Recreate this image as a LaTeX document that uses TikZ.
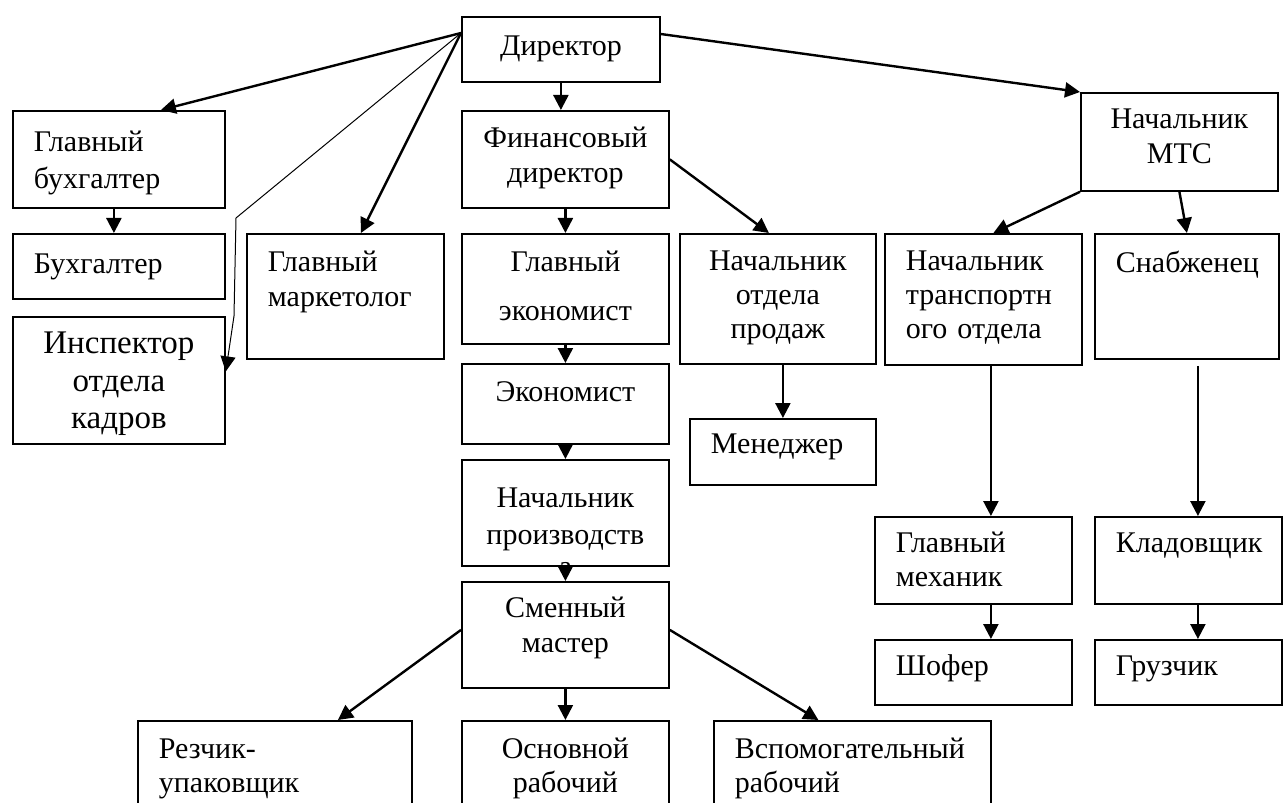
\documentclass[tikz,border=0pt]{standalone}
\usepackage{fontspec}
\setmainfont{Liberation Serif}
\usetikzlibrary{arrows.meta}
\hyphenpenalty=10000
\tikzstyle{block} = [rectangle, draw, line width=0.9pt, anchor=north west,
	inner xsep=0pt, inner ysep=0pt, align=center,
	font=\fontsize{15pt}{17.5pt}\selectfont]
\tikzstyle{lblock} = [block, inner xsep=10.5pt, align=left]
\tikzstyle{line} = [draw, line width=1.2pt, -{Triangle[length=7.5pt,width=7.5pt]}]
\tikzstyle{thinline} = [draw, line width=0.5pt, -{Triangle[length=7.5pt,width=7.5pt]}]

\begin{document}
\begin{tikzpicture}[x=0.5pt, y=-0.5pt]
	\path [use as bounding box, clip] (0,0) rectangle (1283,802);
	% Place nodes
	\node [block, text width=99pt, text height=19.5pt, text depth=13pt] (director) at (461,16) {Директор};
	\node [block, text width=103.5pt, text height=18.5pt, text depth=30pt] (findir) at (461,110) {Финансовый\\директор};
	\node [lblock, text width=85pt, text height=20.5pt, text depth=28pt,
		font=\fontsize{15pt}{18.5pt}\selectfont] (chiefacc) at (12,110) {Главный\\бухгалтер};
	\node [lblock, text width=85pt, text height=20pt, text depth=12.5pt] (acc) at (12,233) {Бухгалтер};
	\node [block, text width=106pt, text height=18.5pt, text depth=45pt,
		font=\fontsize{16.5pt}{18.75pt}\selectfont] (hr) at (12,316) {Инспектор\\отдела\\кадров};
	\node [lblock, text width=77.5pt, text height=19pt, text depth=43.5pt] (market) at (246,233) {Главный\\маркетолог};
	\node [block, text width=103.5pt, text height=19pt, text depth=36pt,
		font=\fontsize{15pt}{24.5pt}\selectfont] (chiefecon) at (461,233) {Главный\\экономист};
	\node [block, text width=103.5pt, text height=19pt, text depth=21pt] (econ) at (461,363) {Экономист};
	\node [block, text width=103.5pt, text height=23.5pt, text depth=29.5pt,
		path picture={\node [draw=none, anchor=north, inner sep=0pt, text width=103.5pt,
			align=center, text height=23.5pt, font=\fontsize{15pt}{18.5pt}\selectfont]
			at (path picture bounding box.north) {Начальник\\производств\\[-2.5pt]а};}] (prodhead) at (461,459) {};
	\node [block, text width=103.5pt, text height=18pt, text depth=35pt] (master) at (461,581) {Сменный\\мастер};
	\node [lblock, text width=116pt, text height=19pt, text depth=31pt,
		font=\fontsize{15pt}{17pt}\selectfont] (cutter) at (137,720) {Резчик-\\упаковщик};
	\node [block, text width=103.5pt, text height=19pt, text depth=31pt,
		font=\fontsize{15pt}{17pt}\selectfont] (worker) at (461,720) {Основной\\рабочий};
	\node [lblock, text width=117.5pt, text height=19pt, text depth=31pt,
		font=\fontsize{15pt}{17pt}\selectfont] (helper) at (713,720) {Вспомогательный\\рабочий};
	\node [block, text width=98pt, text height=18.5pt, text depth=46.5pt,
		font=\fontsize{15pt}{17pt}\selectfont] (saleshead) at (679,233) {Начальник\\отдела\\продаж};
	\node [lblock, text width=72pt, text height=17.5pt, text depth=15.5pt] (manager) at (689,418) {Менеджер};
	\node [block, text width=98.5pt, text height=18pt, text depth=31pt] (mts) at (1080,92) {Начальник\\МТС};
	\node [lblock, text width=77.5pt, text height=18.5pt, text depth=47pt,
		font=\fontsize{15pt}{17pt}\selectfont] (transhead) at (884,233) {Начальник\\транспортн\\ого отдела};
	\node [lblock, text width=71pt, text height=19.5pt, text depth=43pt] (supplier) at (1094,233) {Снабженец};
	\node [lblock, text width=77.5pt, text height=18pt, text depth=25.5pt,
		font=\fontsize{15pt}{17pt}\selectfont] (mechanic) at (874,516) {Главный\\механик};
	\node [lblock, text width=77.5pt, text height=18pt, text depth=14.5pt] (driver) at (874,639) {Шофер};
	\node [lblock, text width=72.5pt, text height=18pt, text depth=25.5pt] (storekeeper) at (1094,516) {Кладовщик};
	\node [lblock, text width=72.5pt, text height=18pt, text depth=14.5pt] (loader) at (1094,639) {Грузчик};
	\coordinate (dirleft) at ([yshift=-8.5pt]director.north west);
	\coordinate (dirright) at ([yshift=-9pt]director.north east);
	% Draw edges
	\path [line] (dirleft) -- ([xshift=21pt]chiefacc.north);
	\path [line] (dirleft) -- ([xshift=7.75pt]market.north);
	\path [thinline] (dirleft) -- (236,218) -- (234,316) -- ([yshift=4.5pt]hr.east);
	\path [line] ([xshift=-2.5pt]chiefacc.south) -- ([xshift=-2.5pt]acc.north);
	\path [line] (director.south) -- (director.south |- findir.north);
	\path [line] (dirright) -- (mts.north west);
	\path [line] (findir.south) -- (chiefecon.north);
	\path [line] (findir.east) -- ([xshift=-4.5pt]saleshead.north);
	\path [line] (chiefecon.south) -- (econ.north);
	\path [line] (econ.south) -- (prodhead.north);
	\path [line] (prodhead.south) -- (master.north);
	\path [line] ([yshift=2.5pt]master.west) -- ([xshift=31.5pt]cutter.north);
	\path [line] (master.south) -- (worker.north);
	\path [line] ([yshift=2.5pt]master.east) -- ([xshift=-17pt]helper.north);
	\path [line] (manager.north |- saleshead.south) -- (manager.north);
	\path [line] (mts.south west) -- ([xshift=5pt]transhead.north);
	\path [line] (mts.south) -- (supplier.north);
	\path [line] ([xshift=3.75pt]transhead.south) -- ([xshift=8.75pt]mechanic.north);
	\path [line] ([xshift=8.75pt]mechanic.south) -- ([xshift=8.75pt]driver.north);
	\path [line] ([xshift=5.5pt,yshift=-3pt]supplier.south) -- ([xshift=4.75pt]storekeeper.north);
	\path [line] ([xshift=4.75pt]storekeeper.south) -- ([xshift=4.75pt]loader.north);
\end{tikzpicture}
\end{document}
